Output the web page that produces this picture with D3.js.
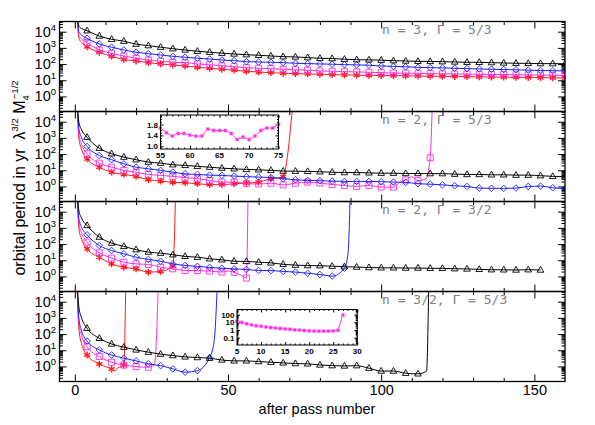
<!DOCTYPE html>
<html><head><meta charset="utf-8">
<script src="https://cdn.jsdelivr.net/npm/d3@7"></script>
<style>body{margin:0;background:#fff}svg{display:block}</style>
</head><body>
<svg id="c" width="595" height="425"></svg>
<script>
// ---------------- DATA ----------------
const passes=[4,8,12,16,20,24,28,32,36,40,44,48,52,56,60,64,68,72,76,80,84,88,92,96,100,104,108,112,116,120,124,128,132,136,140,144,148,152,156,160];
const panelLabels=["n = 3, \u0393 = 5/3","n = 2, \u0393 = 5/3","n = 2, \u0393 = 3/2","n = 3/2, \u0393 = 5/3"];
const xTickLabels=[0,50,100,150];
const yTickExponents=[0,1,2,3,4];

// panel 1 : n=3, Gamma=5/3
const p1Black=[11500,5400,3400,2600,1700,1380,1100,890,740,620,540,470,420,380,350,316,288,275,251,229,219,200,186,182,174,162,155,148,146,141,135,129,128,123,117,112,111,107,106,105];
const p1Blue=[3900,1740,1100,741,537,437,363,302,263,229,204,178,162,141,135,129,123,112,107,102,98,93,89,85,76,72,68,63,60,58,55,52,50,48,46,44,42,40,39,38];
const p1Magenta=[2090,741,468,316,229,178,148,129,123,102,91,79,69,60,55,52,48,44,42,38,36,34,33,31,29.5,28,27.5,27,25.7,25,24.5,24,23.4,22.9,22.4,21.9,21.4,20.9,20.4,20];
const p1Red=[1170,537,300,195,155,123,102,87,76,63,55,48,42,36,32,29.5,27,25.7,24.5,23.4,22.4,21.4,20.4,20.2,19.5,19.3,18.6,18.2,17.8,17.4,17,16.6,16.2,15.8,15.5,15.1,14.8,14.5,14.1,13.8];
const p1BlackHead=[[0.6,1e6],[1.3,22000],[2.2,16000]];
const p1BlueHead=[[0.6,1e6],[1.3,10000],[2.2,6300]];
const p1MagentaHead=[[0.6,1e6],[1.3,6300],[2.2,3500]];
const p1RedHead=[[0.6,1e6],[1.3,4000],[2.2,2200]];

// panel 2 : n=2, Gamma=5/3
const p2Black=[1100,229,105,65,45,32,27.5,21.9,20,17.4,15.5,13.5,12.3,11.2,10.7,9.8,8.9,8.7,8.5,8.1,7.6,7.2,7.2,6.9,6.6,6.6,6.3,6.3,6.2,6.2,5.75,5.5,5.5,5.25,5.25,5.0,5.0,4.6,4.2,4.0];
const p2Blue=[295,81,45,25,15.5,12.3,9.8,7.6,6.0,5.5,5.0,4.8,4.4,4.0,3.8,3.5,3.0,2.6,2.34,2.24,2.14,2.04,2.04,2.04,1.95,1.86,1.78,1.48,1.38,1.26,1.10,1.0,0.79,0.76,0.76,0.79,1.0,1.05,0.83,0.72];
const p2Magenta=[105,27.5,15.5,9.8,7.6,5.5,4.8,4.2,3.5,3.0,2.34,1.86,1.86,1.49,1.41,1.58,1.25,1.58,1.86,1.62,1.32,1.15,1.0,1.15,0.91,0.91,2.5,2.3,59];
const p2Red=[51,15.5,7.6,5.5,4.2,2.6,2.14,1.78,1.70,1.48,1.29,1.29,1.48,1.62,1.86,3.0,4.0];
const p2BlackHead=[[0.6,1e6],[1.3,10000],[2.2,3200]];
const p2BlueHead=[[0.6,1e6],[1.3,4000],[2.2,1000]];
const p2MagentaHead=[[0.6,1e6],[1.3,2000],[2.2,400]];
const p2RedHead=[[0.6,1e6],[1.3,1000],[2.2,200]];
const p2MagentaExtra=[[106,1.8],[110,4.0],[114.5,2.8],[116.8,1e6]];
const p2RedExtra=[[69.5,100],[71,5e4],[72,1e6]];

// panel 3 : n=2, Gamma=3/2
const p3Black=[1410,269,115,72,45,32,27.5,21.9,17.4,15.5,12.3,10.7,8.7,8.5,7.6,6.9,5.6,5.0,4.7,4.6,4.3,4.0,3.8,3.55,3.4,3.4,3.3,3.3,3.2,3.16,3.0,2.9,2.75,2.6,2.57,2.5,2.6,2.5];
const p3Blue=[372,81,40,25,15.5,11.2,8.7,6.0,4.8,4.2,3.6,3.2,2.95,2.7,2.34,2.3,2.04,1.86,1.58,1.32,1.05,3.2];
const p3Magenta=[132,29,13.5,7.6,6.0,5.5,3.7,2.95,2.34,2.3,2.14,1.86,1.78,0.79];
const p3Red=[51,15.5,6.0,3.7,2.95,1.86,2.04,4.4];
const p3BlackHead=[[0.6,1e6],[1.3,12600],[2.2,4000]];
const p3BlueHead=[[0.6,1e6],[1.3,4000],[2.2,1100]];
const p3MagentaHead=[[0.6,1e6],[1.3,2000],[2.2,500]];
const p3RedHead=[[0.6,1e6],[1.3,1000],[2.2,200]];
const p3BlueExtra=[[89.2,30],[90,1e6]];
const p3MagentaExtra=[[50,2.2],[54,1.26],[56.6,1e6]];
const p3RedExtra=[[33,1e6]];

// panel 4 : n=3/2, Gamma=5/3
const p4Black=[229,55,24.5,15.5,10.5,7.6,5.75,4.7,3.9,3.55,3.24,2.5,2.2,2.2,2.0,1.82,1.66,1.51,1.45,1.23,1.12,1.07,1.12,0.78,0.52,0.52,0.38,0.35];
const p4Blue=[37,10.5,5.1,3.24,2.2,1.45,1.12,0.71,0.44,0.55,3.5];
const p4Magenta=[16.6,4.1,1.82,1.23,0.98,0.89];
const p4Red=[5.1,1.41,0.69,1.23];
const p4BlackHead=[[0.6,1e6],[1.3,5000],[2.2,1000]];
const p4BlueHead=[[0.6,1e6],[1.3,1000],[2.2,160]];
const p4MagentaHead=[[0.6,1e6],[1.3,500],[2.2,80]];
const p4RedHead=[[0.6,1e6],[1.3,250],[2.2,25]];
const p4BlackExtra=[[114.8,0.5],[115.6,1e6]];
const p4BlueExtra=[[45.5,40],[46.7,1e6]];
const p4MagentaExtra=[[26,1.3],[27.4,1e6]];
const p4RedExtra=[[13,0.53],[14,0.8],[16.7,1e6]];

// inset in panel 2 (linear)
const insetAPasses=[55,56,57,58,59,60,61,62,63,64,65,66,67,68,69,70,71,72,73,74,75];
const insetAValues=[1.67,1.50,1.38,1.47,1.47,1.41,1.37,1.38,1.63,1.58,1.58,1.58,1.47,1.25,1.34,1.25,1.38,1.58,1.67,1.67,1.80];
const insetATickLabels=[1.0,1.4,1.8];
const insetAXLabels=[55,60,65,70,75];
// inset in panel 4 (log)
const insetBPasses=[5,6,7,8,9,10,11,12,13,14,15,16,17,18,19,20,21,22,23,24,25,26,27];
const insetBValues=[13,9.5,6.5,4.6,3.6,3.0,2.5,2.1,1.8,1.55,1.35,1.2,1.05,0.95,0.85,0.78,0.72,0.68,0.68,0.70,0.75,0.9,90];
const insetBTickLabels=["0.1","1","10","100"];
const insetBXLabels=[5,10,15,20,25,30];

// ---------------- DRAW ----------------
const FONT="'Liberation Sans', Arial, Helvetica, sans-serif";
const COL={black:"#000000",blue:"#2020ff",magenta:"#ff2ee0",red:"#ff1a1a"};
const MK={
  tri:"M0,-3.6L3.3,2.2L-3.3,2.2Z",
  dia:"M0,-3.3L3.3,0L0,3.3L-3.3,0Z",
  sq:"M-3,-3H3V3H-3Z",
  star:"M0,-3.4V3.4M-3,-1.7L3,1.7M-3,1.7L3,-1.7"
};
const panels=[
 [{c:"red",m:"star",h:p1RedHead,v:p1Red,e:[]},{c:"magenta",m:"sq",h:p1MagentaHead,v:p1Magenta,e:[]},{c:"blue",m:"dia",h:p1BlueHead,v:p1Blue,e:[]},{c:"black",m:"tri",h:p1BlackHead,v:p1Black,e:[]}],
 [{c:"red",m:"star",h:p2RedHead,v:p2Red,e:p2RedExtra},{c:"magenta",m:"sq",h:p2MagentaHead,v:p2Magenta,e:p2MagentaExtra},{c:"blue",m:"dia",h:p2BlueHead,v:p2Blue,e:[]},{c:"black",m:"tri",h:p2BlackHead,v:p2Black,e:[]}],
 [{c:"red",m:"star",h:p3RedHead,v:p3Red,e:p3RedExtra},{c:"magenta",m:"sq",h:p3MagentaHead,v:p3Magenta,e:p3MagentaExtra},{c:"blue",m:"dia",h:p3BlueHead,v:p3Blue,e:p3BlueExtra},{c:"black",m:"tri",h:p3BlackHead,v:p3Black,e:[]}],
 [{c:"red",m:"star",h:p4RedHead,v:p4Red,e:p4RedExtra},{c:"magenta",m:"sq",h:p4MagentaHead,v:p4Magenta,e:p4MagentaExtra},{c:"blue",m:"dia",h:p4BlueHead,v:p4Blue,e:p4BlueExtra},{c:"black",m:"tri",h:p4BlackHead,v:p4Black,e:p4BlackExtra}]
];

const svg=d3.select("#c");
const L=59.5,R=565,TOP0=21.5,PH=90;
const x=d3.scaleLinear().domain([-5,160]).range([L,R]);
const yDom=[Math.pow(10,-0.93),Math.pow(10,4.63)];
const xMinor=[10,20,30,40,60,70,80,90,110,120,130,140];

function styleAxis(g){g.select(".domain").remove();g.selectAll(".tick line").attr("stroke","#000").attr("stroke-width",1);}

panels.forEach((series,pi)=>{
  const top=TOP0+pi*PH;
  const y=d3.scaleLog().domain(yDom).range([top+PH,top]);
  const g=svg.append("g");
  const cid="clip"+pi;
  svg.append("clipPath").attr("id",cid).append("rect").attr("x",L).attr("y",top).attr("width",R-L).attr("height",PH);

  // panel label
  g.append("text").attr("x",382).attr("y",top+12.5).attr("font-family","'DejaVu Sans Mono', monospace")
   .attr("font-size",13).attr("fill","#808080").text(panelLabels[pi]);

  // ticks
  const all=y.ticks();
  const maj=all.filter(v=>Math.abs(Math.log10(v)-Math.round(Math.log10(v)))<1e-9);
  const mnr=all.filter(v=>maj.indexOf(v)<0);
  g.append("g").attr("transform",`translate(${L},0)`).call(d3.axisLeft(y).tickValues(maj).tickSize(-7).tickFormat("")).call(styleAxis);
  g.append("g").attr("transform",`translate(${L},0)`).call(d3.axisLeft(y).tickValues(mnr).tickSize(-3.5).tickFormat("")).call(styleAxis);
  g.append("g").attr("transform",`translate(${R},0)`).call(d3.axisRight(y).tickValues(maj).tickSize(-7).tickFormat("")).call(styleAxis);
  g.append("g").attr("transform",`translate(${R},0)`).call(d3.axisRight(y).tickValues(mnr).tickSize(-3.5).tickFormat("")).call(styleAxis);
  g.append("g").attr("transform",`translate(0,${top+PH})`).call(d3.axisBottom(x).tickValues(xTickLabels).tickSize(-7).tickFormat(pi===3?d3.format("d"):"")).call(styleAxis)
   .call(a=>a.selectAll("text").attr("font-family",FONT).attr("font-size",14.5).attr("fill","#000"));
  g.append("g").attr("transform",`translate(0,${top+PH})`).call(d3.axisBottom(x).tickValues(xMinor).tickSize(-3.5).tickFormat("")).call(styleAxis);
  g.append("g").attr("transform",`translate(0,${top})`).call(d3.axisTop(x).tickValues(xTickLabels).tickSize(-7).tickFormat("")).call(styleAxis);
  g.append("g").attr("transform",`translate(0,${top})`).call(d3.axisTop(x).tickValues(xMinor).tickSize(-3.5).tickFormat("")).call(styleAxis);

  // y tick labels
  yTickExponents.forEach(e=>{
    const t=g.append("text").attr("x",56).attr("y",y(Math.pow(10,e))+5).attr("text-anchor","end")
      .attr("font-family",FONT).attr("font-size",14.5).attr("fill","#000");
    t.append("tspan").text("10");
    t.append("tspan").attr("dy",-6).attr("font-size",9.5).text(e);
  });

  // data
  const dg=g.append("g").attr("clip-path",`url(#${cid})`);
  const line=d3.line().x(d=>x(d[0])).y(d=>y(d[1])).curve(d3.curveMonotoneX);
  series.forEach(s=>{
    const mpts=s.v.map((v,i)=>[passes[i],v]);
    const pts=s.h.concat(mpts).concat(s.e).sort((a,b)=>a[0]-b[0]);
    dg.append("path").attr("d",line(pts)).attr("fill","none").attr("stroke",COL[s.c]).attr("stroke-width",1);
    dg.selectAll(null).data(mpts).enter().append("path")
      .attr("transform",d=>`translate(${x(d[0])},${y(d[1])})`)
      .attr("d",MK[s.m]).attr("fill","none").attr("stroke",COL[s.c])
      .attr("stroke-width",s.m==="star"?1.4:0.9);
  });

  // frame
  g.append("rect").attr("x",L).attr("y",top).attr("width",R-L).attr("height",PH)
   .attr("fill","none").attr("stroke","#000").attr("stroke-width",1.3);
});

// ---- inset A (panel 2) ----
(function(){
  const x0=160.5,x1=278.5,y0=115,y1=149;
  const xs=d3.scaleLinear().domain([55,75]).range([x0,x1]);
  const ys=d3.scaleLinear().domain([0.9,2.15]).range([y1,y0]);
  const g=svg.append("g");
  g.append("rect").attr("x",x0).attr("y",y0).attr("width",x1-x0).attr("height",y1-y0).attr("fill","#fff");
  const xm=d3.range(55,76,5), xn=d3.range(55,76,1).filter(v=>v%5);
  const ym=[1.0,1.4,1.8], yn=[1.1,1.2,1.3,1.5,1.6,1.7,1.9,2.0,2.1];
  g.append("g").attr("transform",`translate(0,${y1})`).call(d3.axisBottom(xs).tickValues(xm).tickSize(-3).tickFormat("")).call(styleAxis);
  g.append("g").attr("transform",`translate(0,${y1})`).call(d3.axisBottom(xs).tickValues(xn).tickSize(-1.5).tickFormat("")).call(styleAxis);
  g.append("g").attr("transform",`translate(0,${y0})`).call(d3.axisTop(xs).tickValues(xm).tickSize(-3).tickFormat("")).call(styleAxis);
  g.append("g").attr("transform",`translate(0,${y0})`).call(d3.axisTop(xs).tickValues(xn).tickSize(-1.5).tickFormat("")).call(styleAxis);
  g.append("g").attr("transform",`translate(${x0},0)`).call(d3.axisLeft(ys).tickValues(ym).tickSize(-3).tickFormat("")).call(styleAxis);
  g.append("g").attr("transform",`translate(${x0},0)`).call(d3.axisLeft(ys).tickValues(yn).tickSize(-1.5).tickFormat("")).call(styleAxis);
  g.append("g").attr("transform",`translate(${x1},0)`).call(d3.axisRight(ys).tickValues(ym).tickSize(-3).tickFormat("")).call(styleAxis);
  g.append("g").attr("transform",`translate(${x1},0)`).call(d3.axisRight(ys).tickValues(yn).tickSize(-1.5).tickFormat("")).call(styleAxis);
  insetATickLabels.forEach(v=>g.append("text").attr("x",x0-2.5).attr("y",ys(v)+3).attr("text-anchor","end")
    .attr("font-family",FONT).attr("font-weight","bold").attr("font-size",8).text(d3.format(".1f")(v)));
  insetAXLabels.forEach(v=>g.append("text").attr("x",xs(v)).attr("y",y1+8.5).attr("text-anchor","middle")
    .attr("font-family",FONT).attr("font-weight","bold").attr("font-size",8).text(v));
  const pts=insetAPasses.map((p,i)=>[p,insetAValues[i]]);
  g.append("path").attr("d",d3.line().x(d=>xs(d[0])).y(d=>ys(d[1]))(pts)).attr("fill","none").attr("stroke",COL.magenta).attr("stroke-width",1);
  g.selectAll(null).data(pts).enter().append("rect").attr("x",d=>xs(d[0])-1.6).attr("y",d=>ys(d[1])-1.6)
    .attr("width",3.2).attr("height",3.2).attr("fill",COL.magenta).attr("stroke","#ff9af0").attr("stroke-width",0.5);
  g.append("rect").attr("x",x0).attr("y",y0).attr("width",x1-x0).attr("height",y1-y0).attr("fill","none").attr("stroke","#000").attr("stroke-width",1);
})();

// ---- inset B (panel 4) ----
(function(){
  const x0=237,x1=357.3,y0=309.5,y1=345;
  const xs=d3.scaleLinear().domain([5,30]).range([x0,x1]);
  const ys=d3.scaleLog().domain([Math.pow(10,-1.96),Math.pow(10,2.67)]).range([y1,y0]);
  const g=svg.append("g");
  g.append("rect").attr("x",x0).attr("y",y0).attr("width",x1-x0).attr("height",y1-y0).attr("fill","#fff");
  const xm=d3.range(5,31,5), xn=d3.range(5,31,1).filter(v=>v%5);
  const all=ys.ticks();
  const ym=all.filter(v=>Math.abs(Math.log10(v)-Math.round(Math.log10(v)))<1e-9);
  const yn=all.filter(v=>ym.indexOf(v)<0);
  g.append("g").attr("transform",`translate(0,${y1})`).call(d3.axisBottom(xs).tickValues(xm).tickSize(-3).tickFormat("")).call(styleAxis);
  g.append("g").attr("transform",`translate(0,${y1})`).call(d3.axisBottom(xs).tickValues(xn).tickSize(-1.5).tickFormat("")).call(styleAxis);
  g.append("g").attr("transform",`translate(0,${y0})`).call(d3.axisTop(xs).tickValues(xm).tickSize(-3).tickFormat("")).call(styleAxis);
  g.append("g").attr("transform",`translate(0,${y0})`).call(d3.axisTop(xs).tickValues(xn).tickSize(-1.5).tickFormat("")).call(styleAxis);
  g.append("g").attr("transform",`translate(${x0},0)`).call(d3.axisLeft(ys).tickValues(ym).tickSize(-3).tickFormat("")).call(styleAxis);
  g.append("g").attr("transform",`translate(${x0},0)`).call(d3.axisLeft(ys).tickValues(yn).tickSize(-1.5).tickFormat("")).call(styleAxis);
  g.append("g").attr("transform",`translate(${x1},0)`).call(d3.axisRight(ys).tickValues(ym).tickSize(-3).tickFormat("")).call(styleAxis);
  g.append("g").attr("transform",`translate(${x1},0)`).call(d3.axisRight(ys).tickValues(yn).tickSize(-1.5).tickFormat("")).call(styleAxis);
  insetBTickLabels.forEach(v=>g.append("text").attr("x",x0-2.5).attr("y",ys(+v)+3).attr("text-anchor","end")
    .attr("font-family",FONT).attr("font-weight","bold").attr("font-size",8).text(v));
  insetBXLabels.forEach(v=>g.append("text").attr("x",xs(v)).attr("y",y1+8.5).attr("text-anchor","middle")
    .attr("font-family",FONT).attr("font-weight","bold").attr("font-size",8).text(v));
  const pts=insetBPasses.map((p,i)=>[p,insetBValues[i]]);
  g.append("path").attr("d",d3.line().x(d=>xs(d[0])).y(d=>ys(d[1]))(pts)).attr("fill","none").attr("stroke",COL.magenta).attr("stroke-width",1);
  g.selectAll(null).data(pts).enter().append("rect").attr("x",d=>xs(d[0])-1.6).attr("y",d=>ys(d[1])-1.6)
    .attr("width",3.2).attr("height",3.2).attr("fill",COL.magenta).attr("stroke","#ff9af0").attr("stroke-width",0.5);
  g.append("rect").attr("x",x0).attr("y",y0).attr("width",x1-x0).attr("height",y1-y0).attr("fill","none").attr("stroke","#000").attr("stroke-width",1);
})();

// ---- titles ----
svg.append("text").attr("x",317).attr("y",414).attr("text-anchor","middle")
  .attr("font-family",FONT).attr("font-size",14.5).text("after pass number");
const yt=svg.append("text").attr("transform","translate(25,178) rotate(-90)").attr("text-anchor","middle")
  .attr("font-family",FONT).attr("font-size",16);
yt.append("tspan").text("orbital period in yr \u00a0\u03bb");
yt.append("tspan").attr("dy",-7).attr("font-size",9.5).text("3/2");
yt.append("tspan").attr("dy",7).text(" M");
yt.append("tspan").attr("dy",4).attr("font-size",9.5).text("4");
yt.append("tspan").attr("dy",-11).attr("dx",-4).attr("font-size",9.5).text("\u22121/2");
</script>
</body></html>
